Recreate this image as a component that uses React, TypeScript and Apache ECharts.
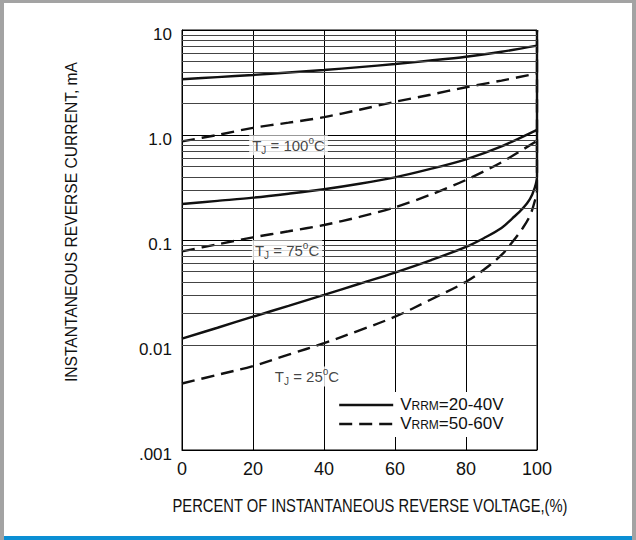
import React, { useEffect, useRef } from "react";
import * as echarts from "echarts";

// ---- data ----
const xTicks = [0, 20, 40, 60, 80, 100];
const yTickLabels = [".001", "0.01", "0.1", "1.0", "10"];
const minorMultipliers = [2, 3, 4, 5, 6, 7, 8, 9];
const decades = [0.001, 0.01, 0.1, 1];

const pctMain = [0, 10, 20, 30, 40, 50, 60, 70, 80, 90, 100];
const solid100 = [3.4, 3.56, 3.73, 3.94, 4.16, 4.43, 4.74, 5.12, 5.57, 6.2, 7.1];
const dashed100 = [0.87, 1.0, 1.17, 1.31, 1.48, 1.74, 2.07, 2.42, 2.85, 3.3, 3.85];
const solid75 = [0.22, 0.236, 0.253, 0.276, 0.304, 0.343, 0.395, 0.475, 0.587, 0.78, 1.12];
const dashed75 = [0.078, 0.091, 0.106, 0.121, 0.139, 0.166, 0.205, 0.27, 0.373, 0.55, 0.88];

const pct25s = [0, 10, 20, 30, 40, 50, 60, 70, 80, 85, 90, 93, 96, 98, 99.3, 100, 100];
const solid25 = [0.0115, 0.0146, 0.0186, 0.0236, 0.03, 0.0383, 0.049, 0.064, 0.086, 0.104, 0.13, 0.16, 0.2, 0.245, 0.31, 0.4, 10];
const pct25d = [0, 10, 20, 30, 40, 50, 60, 70, 80, 85, 90, 93, 96, 98, 99.3, 100, 100];
const dashed25 = [0.0043, 0.0052, 0.0063, 0.0081, 0.0104, 0.0138, 0.0186, 0.027, 0.04, 0.052, 0.072, 0.095, 0.13, 0.17, 0.23, 0.3, 10];

const tempLabels = [
  { x: 30, y: 0.8, t: "100" },
  { x: 29.6, y: 0.08, t: "75" },
  { x: 35.2, y: 0.005, t: "25" },
];

const legendSolid = "VRRM=20-40V";
const legendDashed = "VRRM=50-60V";

const FONT = "'Liberation Sans', Arial, sans-serif";

function zip(xs: number[], ys: number[]) {
  return xs.map((x, i) => [x, ys[i]]);
}

export default function App() {
  const ref = useRef<HTMLDivElement>(null);
  useEffect(() => {
    if (!ref.current) return;
    const chart = echarts.init(ref.current, null, { renderer: "svg" });
    const dash = [13, 7];
    const lineW = 2.4;
    const solidStyle = { color: "#111", width: lineW, type: "solid" as const };
    const dashStyle = { color: "#111", width: lineW, type: dash };

    const minorLines: any[] = [];
    decades.forEach((d) =>
      minorMultipliers.forEach((m) => minorLines.push({ yAxis: d * m }))
    );

    const curve = (name: string, data: number[][], style: any, smooth = 0.3) => ({
      name,
      type: "line",
      data,
      symbol: "none",
      smooth,
      lineStyle: style,
      itemStyle: { color: "#111" },
      z: 3,
      silent: true,
    });

    const option: any = {
      animation: false,
      backgroundColor: "#fff",
      textStyle: { fontFamily: FONT },
      grid: {
        left: 182,
        top: 30,
        right: 99,
        bottom: 90,
        show: true,
        borderColor: "#000",
        borderWidth: 1,
        backgroundColor: "transparent",
      },
      xAxis: {
        type: "value",
        min: 0,
        max: 100,
        interval: 20,
        axisLine: { show: true, lineStyle: { color: "#000", width: 1 } },
        axisTick: { show: false },
        splitLine: { show: true, lineStyle: { color: "#000", width: 1 } },
        axisLabel: {
          color: "#111",
          fontSize: 18,
          fontFamily: FONT,
          margin: 10,
          formatter: (v: number) => String(xTicks[xTicks.indexOf(v)] ?? v),
        },
      },
      yAxis: {
        type: "log",
        logBase: 10,
        min: 0.001,
        max: 10,
        axisLine: { show: true, lineStyle: { color: "#000", width: 1 } },
        axisTick: { show: false },
        splitLine: { show: true, lineStyle: { color: "#000", width: 1 } },
        axisLabel: {
          color: "#111",
          fontSize: 17,
          fontFamily: FONT,
          margin: 10,
          verticalAlign: "top",
          lineHeight: 9,
          formatter: (v: number) => {
            const i = Math.round(Math.log10(v)) + 3;
            return yTickLabels[i] ?? "";
          },
        },
      },
      legend: {
        orient: "vertical",
        left: 338,
        top: 396,
        padding: 0,
        itemWidth: 54,
        itemHeight: 14,
        itemGap: 2,
        selectedMode: false,
        data: [
          { name: legendSolid, itemStyle: { opacity: 0 }, lineStyle: { type: "solid", width: lineW, color: "#111" } },
          { name: legendDashed, itemStyle: { opacity: 0 }, lineStyle: { type: dash, width: lineW, color: "#111" } },
        ],
        formatter: (name: string) =>
          name === legendSolid
            ? "{a|V}{b|RRM}{a|=20-40V}"
            : "{a|V}{b|RRM}{a|=50-60V}",
        textStyle: {
          color: "#111",
          padding: [0, 0, 0, 2],
          rich: {
            a: { fontSize: 17, fontFamily: FONT, color: "#111", lineHeight: 16, verticalAlign: "bottom" },
            b: { fontSize: 12, fontFamily: FONT, color: "#111", lineHeight: 16, verticalAlign: "bottom", padding: [0, 0, 1, 0] },
          },
        },
      },
      graphic: [
        { type: "rect", z: 3, silent: true, shape: { x: 330, y: 392, width: 198, height: 45 }, style: { fill: "#fff" } },
        { type: "rect", z: 100, silent: true, shape: { x: 0, y: 0, width: 4, height: 540 }, style: { fill: "#a3a3a3" } },
        { type: "rect", z: 100, silent: true, shape: { x: 0, y: 0, width: 636, height: 3 }, style: { fill: "#a3a3a3" } },
        { type: "rect", z: 100, silent: true, shape: { x: 632, y: 0, width: 4, height: 540 }, style: { fill: "#a3a3a3" } },
        { type: "rect", z: 100, silent: true, shape: { x: 4, y: 536, width: 628, height: 4 }, style: { fill: "#0b8fd4" } },
        {
          type: "text",
          silent: true,
          x: 71,
          y: 222,
          rotation: Math.PI / 2,
          style: {
            text: "INSTANTANEOUS REVERSE CURRENT, mA",
            fontSize: 15.6,
            fontFamily: FONT,
            fill: "#111",
            align: "center",
            verticalAlign: "middle",
          },
        },
        {
          type: "text",
          silent: true,
          x: 370,
          y: 505,
          scaleX: 0.82,
          style: {
            text: "PERCENT OF INSTANTANEOUS REVERSE VOLTAGE,(%)",
            fontSize: 18,
            fontFamily: FONT,
            fill: "#111",
            align: "center",
            verticalAlign: "middle",
          },
        },
      ],
      series: [
        {
          name: "grid-minor",
          type: "line",
          data: [],
          symbol: "none",
          silent: true,
          z: 1,
          markLine: {
            silent: true,
            symbol: "none",
            label: { show: false },
            lineStyle: { color: "#444", width: 1, type: "solid" },
            data: minorLines,
          },
        },
        curve(legendSolid, zip(pctMain, solid100), solidStyle),
        curve(legendDashed, zip(pctMain, dashed100), dashStyle),
        curve(legendSolid, zip(pctMain, solid75), solidStyle),
        curve(legendDashed, zip(pctMain, dashed75), dashStyle),
        curve(legendSolid, zip(pct25s, solid25), solidStyle, 0.35),
        curve(legendDashed, zip(pct25d, dashed25), dashStyle, 0.35),
        {
          name: "temps",
          type: "scatter",
          symbolSize: 0,
          silent: true,
          z: 5,
          data: tempLabels.map((d) => [d.x, d.y]),
          label: {
            show: true,
            position: "inside",
            backgroundColor: "#fff",
            padding: [0, 3, 0, 3],
            formatter: (p: any) => `{t|T}{s|J}{t| = ${tempLabels[p.dataIndex].t}}{u|o}{t|C}`,
            rich: {
              t: { fontSize: 15, fontFamily: FONT, color: "#111", lineHeight: 20, verticalAlign: "middle" },
              s: { fontSize: 10, fontFamily: FONT, color: "#111", lineHeight: 11, verticalAlign: "bottom" },
              u: { fontSize: 10, fontFamily: FONT, color: "#111", lineHeight: 11, verticalAlign: "top" },
            },
          },
        },
      ],
    };
    chart.setOption(option);
    return () => chart.dispose();
  }, []);
  return (
    <div
      ref={ref}
      style={{ position: "fixed", left: 0, top: 0, width: 636, height: 540 }}
    />
  );
}
